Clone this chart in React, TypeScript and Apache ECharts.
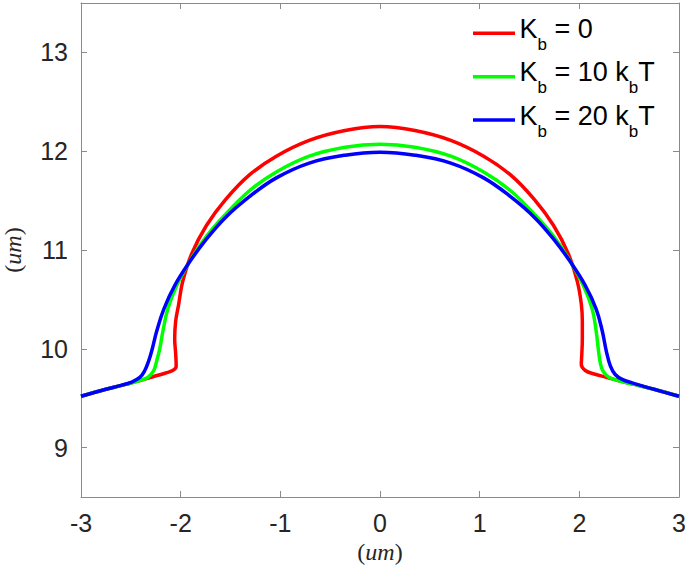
import React, { useEffect, useRef } from 'react';
import * as echarts from 'echarts';

const seriesNames = ['K_b = 0', 'K_b = 10 k_bT', 'K_b = 20 k_bT'];
const seriesColors = ['#ff0000', '#00ff00', '#0000ff'];
const xTicks = [-3, -2, -1, 0, 1, 2, 3];
const yTicks = [9, 10, 11, 12, 13];
const axisTitle = '(um)';

const redShape: number[][] = [
  [-3, 9.52], [-2.75, 9.59], [-2.55, 9.64], [-2.4, 9.68], [-2.27, 9.72], [-2.15, 9.755],
  [-2.08, 9.78], [-2.045, 9.82], [-2.05, 9.95], [-2.06, 10.1], [-2.05, 10.28], [-2.02, 10.45],
  [-1.98, 10.68], [-1.89, 10.96], [-1.74, 11.25], [-1.55, 11.51], [-1.31, 11.76], [-1.04, 11.95],
  [-0.71, 12.11], [-0.35, 12.21], [0, 12.25], [0.35, 12.21], [0.71, 12.11], [1.04, 11.95],
  [1.31, 11.76], [1.55, 11.51], [1.74, 11.25], [1.89, 10.96], [1.98, 10.68], [2.02, 10.45],
  [2.03, 10.28], [2.03, 10.1], [2.025, 9.95], [2.02, 9.84], [2.06, 9.78], [2.15, 9.745],
  [2.28, 9.71], [2.42, 9.67], [2.55, 9.64], [2.75, 9.59], [3, 9.52],
];

const greenShape: number[][] = [
  [-3, 9.52], [-2.75, 9.59], [-2.55, 9.64], [-2.42, 9.675], [-2.33, 9.71], [-2.27, 9.78],
  [-2.24, 9.88], [-2.21, 10.0], [-2.18, 10.17], [-2.13, 10.4], [-2.04, 10.64], [-1.9, 10.9],
  [-1.74, 11.14], [-1.55, 11.36], [-1.31, 11.6], [-1.04, 11.79], [-0.71, 11.95], [-0.35, 12.04],
  [0, 12.07], [0.35, 12.04], [0.71, 11.95], [1.04, 11.79], [1.31, 11.6], [1.55, 11.36],
  [1.74, 11.14], [1.9, 10.9], [2.04, 10.64], [2.13, 10.4], [2.17, 10.17], [2.19, 10.0],
  [2.21, 9.86], [2.24, 9.77], [2.3, 9.71], [2.42, 9.67], [2.55, 9.64], [2.75, 9.59], [3, 9.52],
];

const blueShape: number[][] = [
  [-3, 9.52], [-2.75, 9.59], [-2.6, 9.63], [-2.5, 9.66], [-2.41, 9.71], [-2.36, 9.78],
  [-2.32, 9.88], [-2.29, 9.98], [-2.24, 10.18], [-2.17, 10.4], [-2.06, 10.64], [-1.91, 10.88],
  [-1.75, 11.1], [-1.55, 11.33], [-1.31, 11.54], [-1.04, 11.73], [-0.71, 11.88], [-0.35, 11.96],
  [0, 11.99], [0.35, 11.96], [0.71, 11.88], [1.04, 11.73], [1.31, 11.54], [1.55, 11.33],
  [1.75, 11.1], [1.91, 10.88], [2.06, 10.64], [2.17, 10.4], [2.23, 10.18], [2.27, 9.98],
  [2.31, 9.83], [2.36, 9.74], [2.43, 9.69], [2.53, 9.655], [2.75, 9.59], [3, 9.52],
];

const shapes = [redShape, greenShape, blueShape];

const AXIS_COLOR = '#8a8a8a';
const TEXT_COLOR = '#262626';
const SANS = '"Liberation Sans", Arial, sans-serif';
const SERIF = '"Liberation Serif", "Times New Roman", serif';

function richTitle(t: string): string {
  const inner = t.replace('(', '').replace(')', '');
  return `{p|(}{i|${inner}}{p|)}`;
}

type Seg = { t: string; sub: boolean };
function segments(name: string): Seg[] {
  const out: Seg[] = [];
  name.split('_b').forEach((p, i) => {
    if (i > 0) out.push({ t: 'b', sub: true });
    if (p) out.push({ t: p, sub: false });
  });
  return out;
}

function buildLegend(): any[] {
  const cvs = document.createElement('canvas');
  const ctx = cvs.getContext('2d');
  const MAIN = 27;
  const SUB = 17;
  const measure = (t: string, size: number) => {
    if (!ctx) return t.length * size * 0.55;
    ctx.font = `${size}px ${SANS}`;
    return ctx.measureText(t).width;
  };
  const x0 = 473;
  const x1 = 515;
  const tx = 519.5;
  const y0 = 33.3;
  const dy = 43.4;
  const els: any[] = [];
  seriesNames.forEach((name, i) => {
    const ly = y0 + dy * i;
    els.push({
      type: 'line',
      silent: true,
      shape: { x1: x0, y1: ly, x2: x1, y2: ly },
      style: { stroke: seriesColors[i], lineWidth: 3.5 },
    });
    let x = tx;
    segments(name).forEach((s) => {
      const size = s.sub ? SUB : MAIN;
      els.push({
        type: 'text',
        silent: true,
        x,
        y: s.sub ? ly + 11 : ly - 4.4,
        style: {
          text: s.t,
          fontSize: size,
          fontFamily: SANS,
          fill: '#000',
          align: 'left',
          verticalAlign: 'middle',
        },
      });
      x += measure(s.t, size);
    });
  });
  return els;
}

export default function App() {
  const ref = useRef<HTMLDivElement>(null);

  useEffect(() => {
    if (!ref.current) return;
    const chart = echarts.init(ref.current, null, { renderer: 'svg' });

    const titleRich = {
      p: { fontFamily: SERIF, fontSize: 24, color: TEXT_COLOR },
      i: { fontFamily: SERIF, fontSize: 24, fontStyle: 'italic', color: TEXT_COLOR },
    };

    const xMin = xTicks[0];
    const xMax = xTicks[xTicks.length - 1];
    const yMin = 8.5;
    const yMax = 13.5;

    const baseTick = { show: true, inside: true, length: 6, lineStyle: { color: AXIS_COLOR } };
    const baseAxis = {
      axisLine: { show: true, onZero: false, lineStyle: { color: AXIS_COLOR, width: 1 } },
      splitLine: { show: false },
    };

    chart.setOption({
      animation: false,
      backgroundColor: '#ffffff',
      grid: {
        left: 81,
        right: 6,
        top: 3,
        bottom: 75,
        containLabel: false,
        outerBoundsMode: 'none',
      },
      xAxis: [
        {
          ...baseAxis,
          type: 'value',
          min: xMin,
          max: xMax,
          interval: 1,
          position: 'bottom',
          axisTick: baseTick,
          axisLabel: {
            color: TEXT_COLOR,
            fontFamily: SANS,
            fontSize: 25,
            margin: 13,
          },
          name: richTitle(axisTitle),
          nameLocation: 'middle',
          nameGap: 39,
          nameTextStyle: { rich: titleRich },
        },
        {
          ...baseAxis,
          type: 'value',
          min: xMin,
          max: xMax,
          interval: 1,
          position: 'top',
          axisTick: baseTick,
          axisLabel: { show: false },
        },
      ],
      yAxis: [
        {
          ...baseAxis,
          type: 'value',
          min: yMin,
          max: yMax,
          position: 'left',
          axisLabel: {
            color: TEXT_COLOR,
            fontFamily: SANS,
            fontSize: 25,
            margin: 13,
            customValues: yTicks,
          },
          axisTick: { ...baseTick, customValues: yTicks },
          name: richTitle(axisTitle),
          nameLocation: 'middle',
          nameGap: 56,
          nameRotate: 90,
          nameTextStyle: { rich: titleRich },
        },
        {
          ...baseAxis,
          type: 'value',
          min: yMin,
          max: yMax,
          position: 'right',
          axisLabel: { show: false },
          axisTick: { ...baseTick, customValues: yTicks },
        },
      ],
      graphic: buildLegend(),
      series: shapes.map((d, i) => ({
        name: seriesNames[i],
        type: 'line',
        data: d,
        xAxisIndex: 0,
        yAxisIndex: 0,
        showSymbol: false,
        symbol: 'none',
        smooth: 0.4,
        color: seriesColors[i],
        lineStyle: { color: seriesColors[i], width: 3.5 },
        z: 2 + i,
      })),
    });

    return () => chart.dispose();
  }, []);

  return (
    <div
      ref={ref}
      style={{ position: 'fixed', left: 0, top: 0, width: 685, height: 572, background: '#fff' }}
    />
  );
}
